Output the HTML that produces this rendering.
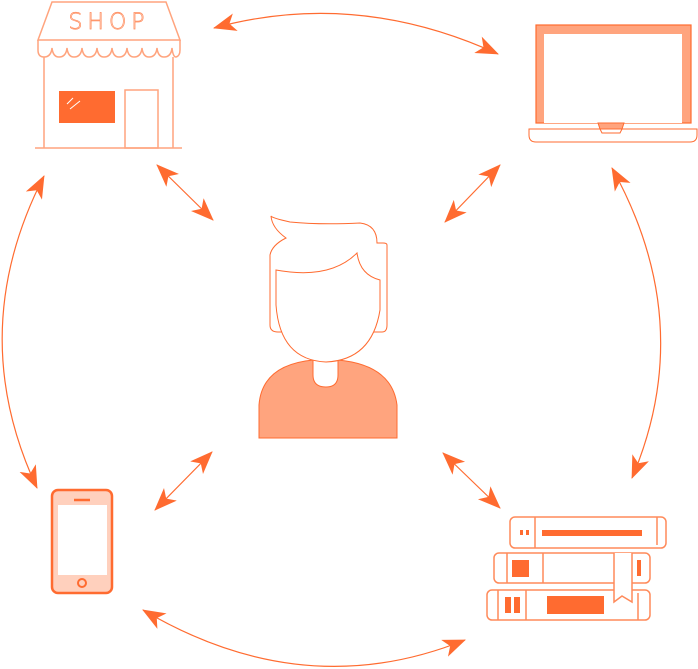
<!DOCTYPE html>
<html><head><meta charset="utf-8"><style>html,body{margin:0;padding:0;background:#fff}svg{display:block}</style></head>
<body>
<svg width="698" height="669" viewBox="0 0 698 669" xmlns="http://www.w3.org/2000/svg">
<defs>
<marker id="a" markerUnits="userSpaceOnUse" markerWidth="26" markerHeight="20" refX="22" refY="9" orient="auto-start-reverse">
<path d="M0,0 L23,9 L0,18 L6,9 Z" fill="#ff6b30"/>
</marker>
</defs>
<g fill="none" stroke="#ff6b30" stroke-width="1.2" marker-start="url(#a)" marker-end="url(#a)">
<path d="M214,28 Q356,-11 498,54"/>
<path d="M612,168 Q698,323 632,478"/>
<path d="M143,610 Q304,705 465,640"/>
<path d="M44,176 Q-36,332 37,488"/>
<path d="M157,165 L213,220"/>
<path d="M500,165 L445,222"/>
<path d="M212,452 L155,510"/>
<path d="M443,453 L500,508"/>
</g>
<!-- shop -->
<g fill="none" stroke="#ffa47e" stroke-width="1.5">
<path d="M52,2 L166,2 L180,40 L38,40 Z"/>
<path d="M38,40 L38,50 Q38,57 44,57 Q51,57 52,48 Q53,57 59,57 Q66,57 67,48 Q68,57 74,57 Q81,57 82,48 Q83,57 89,57 Q96,57 97,48 Q98,57 104,57 Q111,57 112,48 Q113,57 119,57 Q126,57 127,48 Q128,57 134,57 Q141,57 142,48 Q143,57 149,57 Q156,57 157,48 Q158,57 164,57 Q171,57 172,48 Q173,57 176,57 Q180,56 180,50 L180,40"/>
<path d="M44,57 L44,148 M173,57 L173,148 M35,148 L182,148"/>
<rect x="125" y="90" width="33" height="58"/>
</g>
<text x="109" y="29" text-anchor="middle" font-family="DejaVu Sans, sans-serif" font-size="22" font-weight="200" fill="none" stroke="#ff8a5a" stroke-width="0.7" letter-spacing="5">SHOP</text>
<rect x="59" y="91" width="56" height="32" fill="#ff6b30"/>
<path d="M67,104 L73,98 M70,109 L80,101" stroke="#fff" stroke-width="1"/>
<!-- laptop -->
<rect x="536" y="25" width="155" height="98" fill="#ffa47e" stroke="#ff6b30" stroke-width="1.2"/>
<rect x="544" y="34" width="138" height="89" fill="#fff"/>
<path d="M529,129 L600,129 L602,133 L620,133 L622,129 L697,129 L697,135 Q697,142 690,142 L536,142 Q529,142 529,135 Z" fill="#fff" stroke="#ff6b30" stroke-width="1"/>
<path d="M598,123 L600,129 L622,129 L624,123 Z" fill="#ffa47e" stroke="#ff6b30" stroke-width="1"/>
<!-- phone -->
<rect x="52" y="490" width="60" height="103" rx="6" fill="#ffd0bd" stroke="#ff6b30" stroke-width="2.5"/>
<rect x="58" y="505" width="49" height="70" fill="#fff"/>
<path d="M74,500 L90,500" stroke="#ff6b30" stroke-width="2.5"/>
<circle cx="82" cy="583" r="4" fill="none" stroke="#ff6b30" stroke-width="2"/>
<!-- person -->
<path d="M259,438 L259,405 Q262,365 313,360 L338,360 Q392,365 397,405 L397,438 Z" fill="#ffa47e" stroke="#ff6b30" stroke-width="1"/>
<path d="M313,355 L313,375 Q313,387 326,387 Q338,387 338,375 L338,355 Z" fill="#fff" stroke="#ff6b30" stroke-width="1"/>
<g fill="#fff" stroke="#ff6b30" stroke-width="1">
<path d="M270,270 L270,325 Q270,332 278,332 L382,332 Q387,332 387,325 L387,245 Q387,243 383,243 L377,243 Q377,225 360,223 Q320,225 290,222 Q272,218 271,216 Q272,228 286,238 Q272,245 270,255 Z"/>
<path d="M276,270 L276,305 Q280,360 326,362 Q372,360 380,310 L380,280 Q360,275 357,253 Q330,280 276,270 Z"/>
</g>
<!-- books -->
<g fill="#fff" stroke="#ff8a5a" stroke-width="1.5">
<rect x="510" y="517" width="156" height="31" rx="5"/>
<rect x="494" y="553" width="156" height="30" rx="5"/>
<rect x="487" y="590" width="163" height="30" rx="5"/>
<path d="M535,517 L535,548 M657,517 L657,545 M507,553 L507,583 M543,553 L543,583 M498,590 L498,620 M526,590 L526,620 M638,593 L638,620"/>
<path d="M614,553 L614,602 L622,596 L632,602 L632,553" fill="#fff"/>
</g>
<g fill="#ff6b30">
<rect x="520" y="530" width="3" height="5"/><rect x="526" y="530" width="3" height="5"/>
<rect x="542" y="530" width="100" height="6"/>
<rect x="512" y="560" width="17" height="17"/>
<rect x="637" y="560" width="4" height="16"/>
<rect x="505" y="597" width="6" height="16"/><rect x="514" y="597" width="6" height="16"/>
<rect x="547" y="596" width="57" height="18"/>
</g>
</svg>
</body></html>
